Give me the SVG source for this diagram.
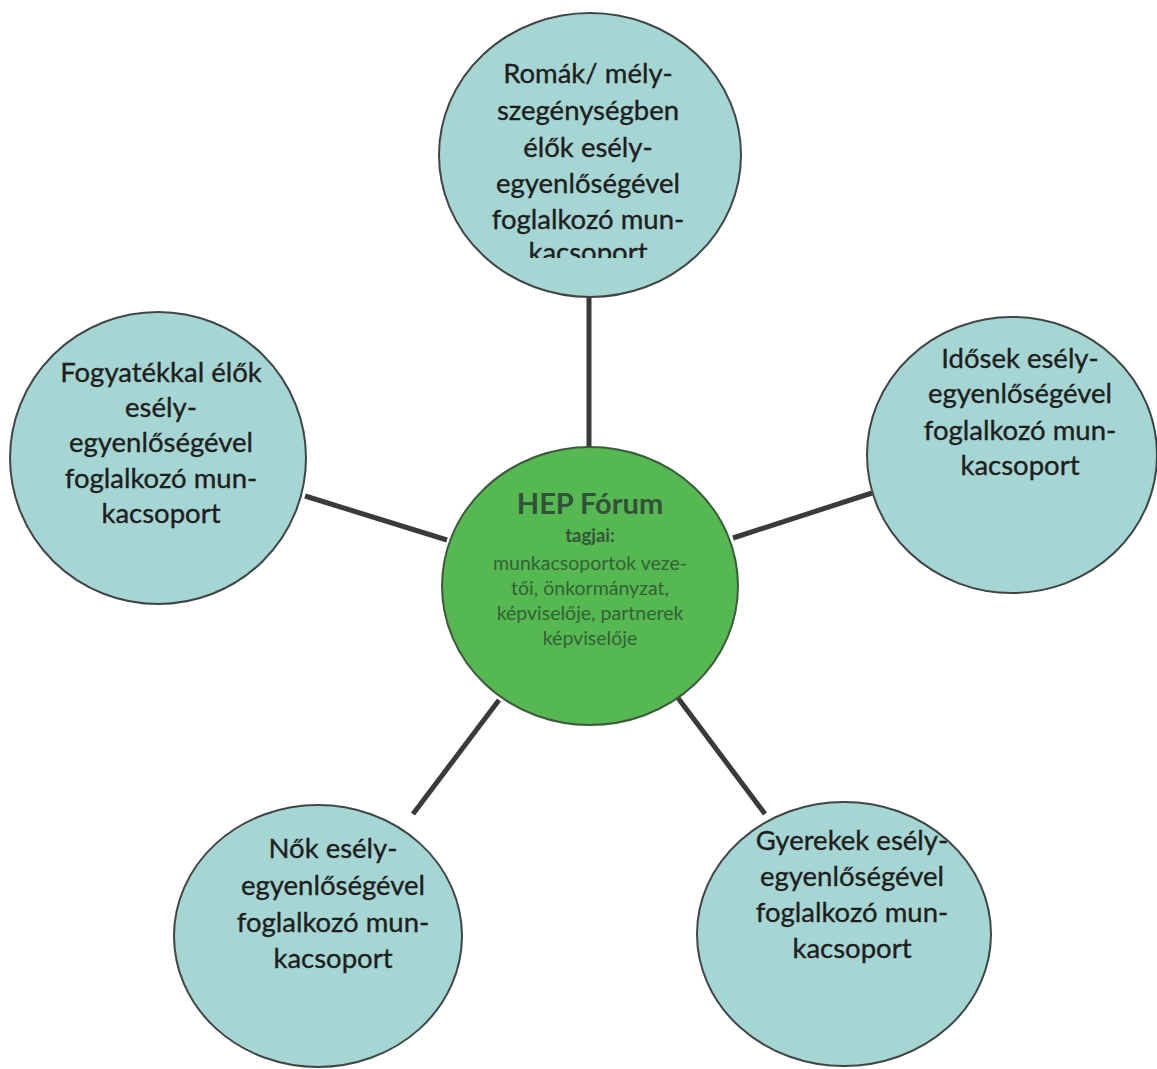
<svg xmlns="http://www.w3.org/2000/svg" width="1157" height="1069" viewBox="0 0 1157 1069">
<style>
.sat{fill:#a6d6d3;stroke:#404545;stroke-width:2}
.hub{fill:#56b851;stroke:#3d5a3d;stroke-width:2}
.t{font-family:Lato,"Liberation Sans",sans-serif;font-size:27.5px;fill:#1e1e1e;stroke:#1e1e1e;stroke-width:0.35;text-anchor:middle}
.h{font-family:Lato,"Liberation Sans",sans-serif;font-weight:bold;font-size:29px;fill:#33503a;text-anchor:middle}
.hs{font-family:Lato,"Liberation Sans",sans-serif;font-weight:bold;font-size:18.5px;fill:#34553a;text-anchor:middle}
.s{font-family:Lato,"Liberation Sans",sans-serif;font-size:19.5px;fill:#336236;text-anchor:middle}
.c{stroke:#3a3a3a;stroke-width:5;stroke-linecap:butt;fill:none}
</style>
<defs>
<clipPath id="clipTop"><rect x="400" y="0" width="380" height="258"/></clipPath>
</defs>
<rect width="1157" height="1069" fill="#ffffff"/>
<g id="connectors">
<line class="c" x1="589" y1="297" x2="589" y2="448"/>
<line class="c" x1="305" y1="496" x2="447" y2="540"/>
<line class="c" x1="733" y1="538" x2="872" y2="493"/>
<line class="c" x1="499" y1="700" x2="413" y2="814"/>
<line class="c" x1="678" y1="698" x2="765" y2="814"/>
</g>
<g id="node-romak">
<ellipse class="sat" cx="590" cy="155" rx="151" ry="142"/>
<g clip-path="url(#clipTop)">
<text class="t" x="588" y="83">Romák/ mély-</text>
<text class="t" x="588" y="120">szegénységben</text>
<text class="t" x="588" y="157">élők esély-</text>
<text class="t" x="588" y="193">egyenlőségével</text>
<text class="t" x="588" y="229">foglalkozó mun-</text>
<text class="t" x="588" y="262">kacsoport</text>
</g>
</g>
<g id="node-fogyatekkal">
<ellipse class="sat" cx="158" cy="458" rx="148" ry="146"/>
<text class="t" x="161" y="382">Fogyatékkal élők</text>
<text class="t" x="161" y="417">esély-</text>
<text class="t" x="161" y="452">egyenlőségével</text>
<text class="t" x="161" y="488">foglalkozó mun-</text>
<text class="t" x="161" y="523">kacsoport</text>
</g>
<g id="node-idosek">
<ellipse class="sat" cx="1012" cy="455" rx="145" ry="138"/>
<text class="t" x="1020" y="368">Idősek esély-</text>
<text class="t" x="1020" y="403">egyenlőségével</text>
<text class="t" x="1020" y="440">foglalkozó mun-</text>
<text class="t" x="1020" y="475">kacsoport</text>
</g>
<g id="node-nok">
<ellipse class="sat" cx="318" cy="936" rx="144" ry="131"/>
<text class="t" x="333" y="858">Nők esély-</text>
<text class="t" x="333" y="895">egyenlőségével</text>
<text class="t" x="333" y="932">foglalkozó mun-</text>
<text class="t" x="333" y="968">kacsoport</text>
</g>
<g id="node-gyerekek">
<ellipse class="sat" cx="844" cy="934" rx="147" ry="132"/>
<text class="t" x="852" y="850">Gyerekek esély-</text>
<text class="t" x="852" y="886">egyenlőségével</text>
<text class="t" x="852" y="922">foglalkozó mun-</text>
<text class="t" x="852" y="958">kacsoport</text>
</g>
<g id="node-hep">
<ellipse class="hub" cx="590" cy="586" rx="148" ry="139"/>
<text class="h" x="590" y="514">HEP Fórum</text>
<text class="hs" x="590" y="542">tagjai:</text>
<text class="s" x="590" y="570">munkacsoportok veze-</text>
<text class="s" x="590" y="595">tői, önkormányzat,</text>
<text class="s" x="590" y="620">képviselője, partnerek</text>
<text class="s" x="590" y="645">képviselője</text>
</g>
</svg>
